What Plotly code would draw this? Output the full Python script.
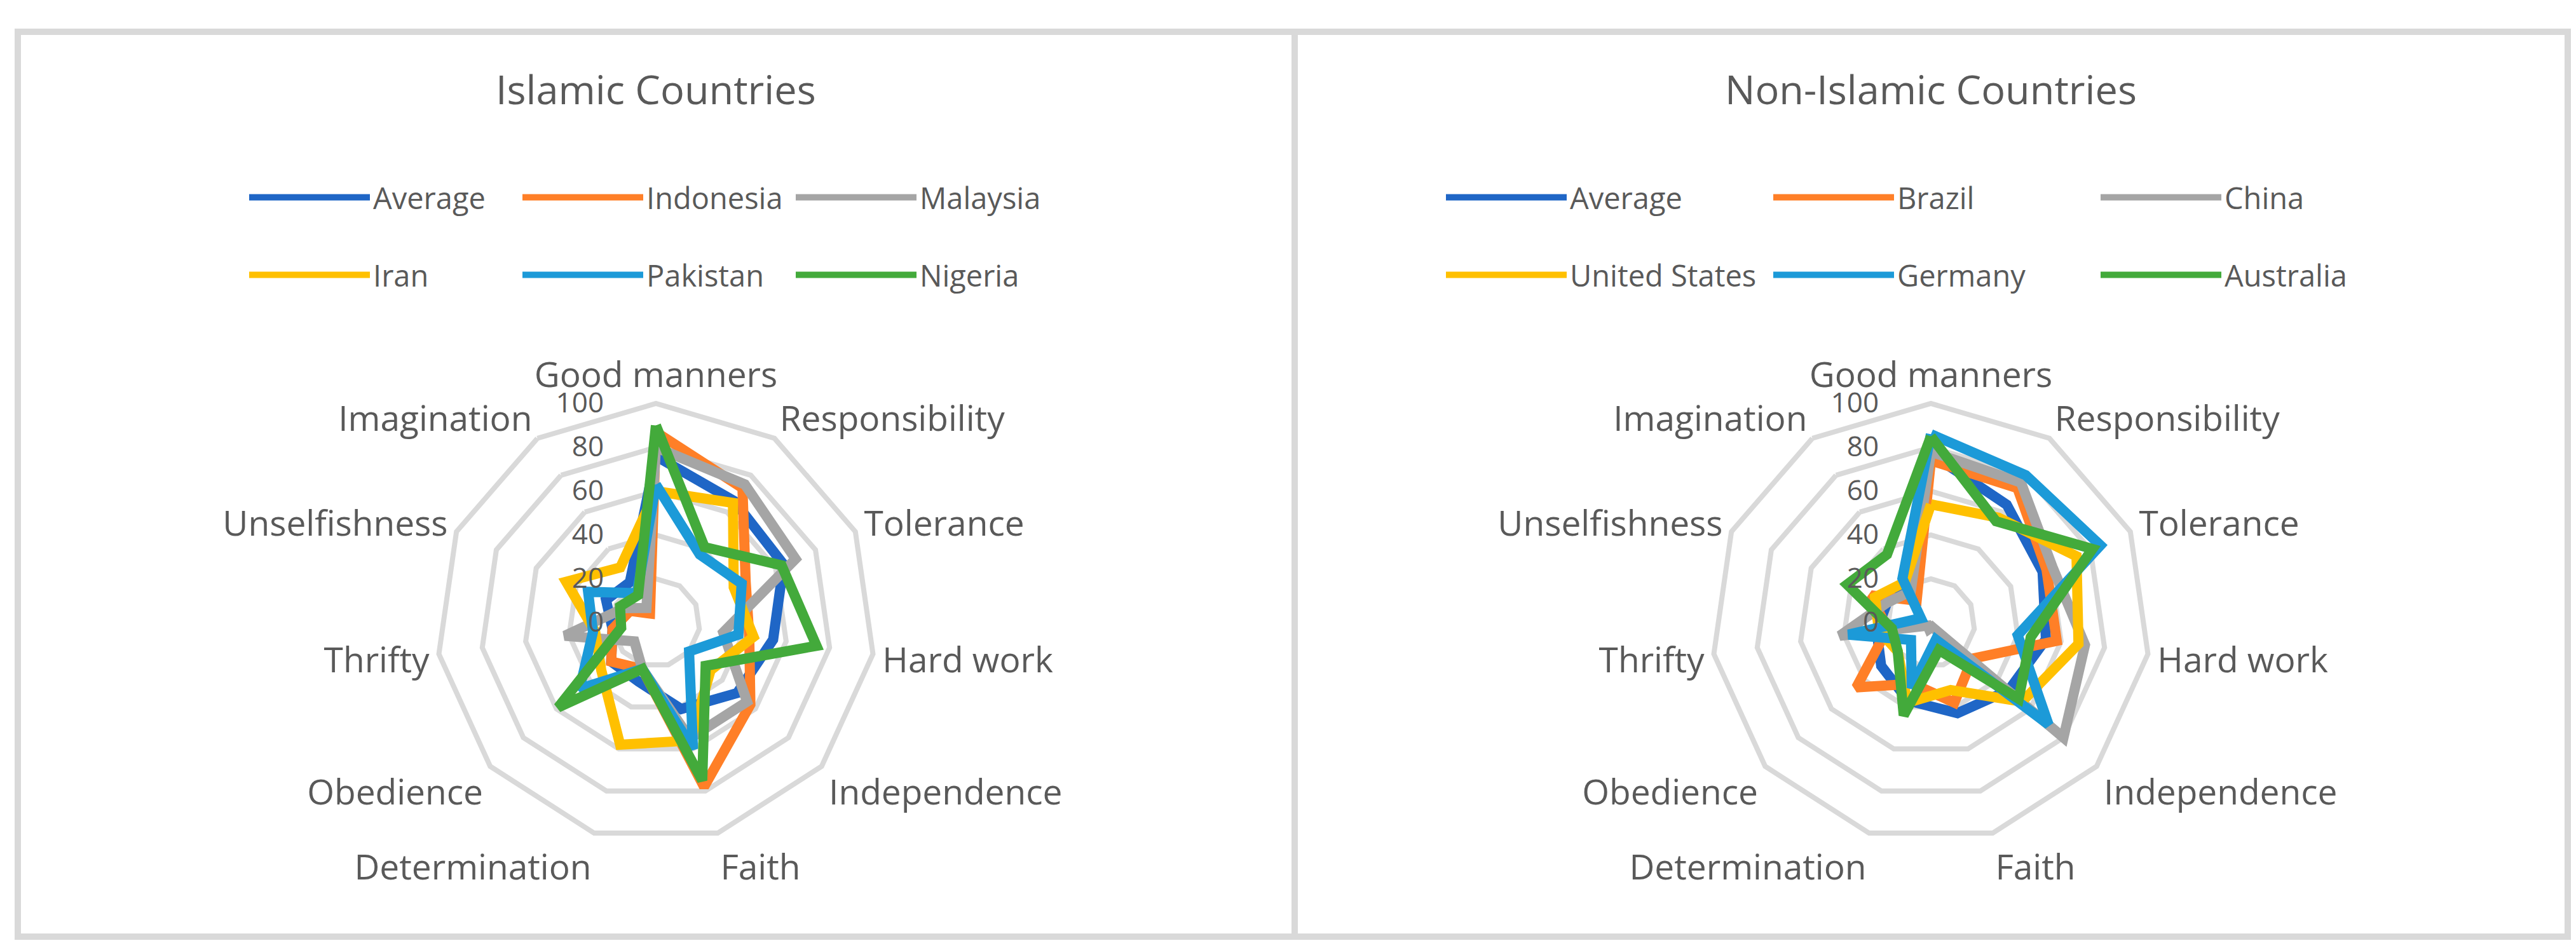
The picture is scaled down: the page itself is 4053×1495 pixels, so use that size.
import plotly.graph_objects as go

# the 11 child qualities, clockwise from the top
categories = ["Good manners", "Responsibility", "Tolerance", "Hard work", "Independence",
              "Faith", "Determination", "Obedience", "Thrifty", "Unselfishness", "Imagination"]

# Islamic countries (percent)
isl_average = [76, 66, 64, 54, 49, 41, 28, 27, 20, 25, 22]
indonesia = [87, 73, 45, 43, 57, 78, 22, 27, 20, 13, 5]
malaysia = [80, 75, 70, 31, 55, 55, 22, 13, 42, 16, 8]
iran = [60, 65, 39, 45, 33, 56, 58, 33, 28, 45, 30]
pakistan = [63, 37, 43, 38, 20, 60, 22, 46, 29, 34, 16]
nigeria = [90, 41, 63, 74, 30, 75, 22, 59, 16, 18, 15]

# non-Islamic countries (percent)
non_average = [77, 64, 56, 53, 47, 43, 37, 30, 25, 22, 20]
brazil = [74, 73, 58, 58, 25, 38, 29, 45, 20, 30, 12]
china = [78, 76, 61, 71, 80, 2, 3, 2, 42, 22, 17]
united_states = [54, 57, 73, 68, 55, 32, 38, 20, 24, 28, 22]
germany = [86, 80, 85, 40, 71, 8, 31, 12, 38, 5, 24]
australia = [85, 55, 81, 46, 53, 13, 44, 20, 18, 42, 37]

colors = ["#1F66C6", "#FF7F27", "#A5A5A5", "#FFC000", "#1C9AD8", "#43AA3B"]
TXT = "#595959"
GRID = "#D9D9D9"
FONT = "Open Sans"

W, H = 4053, 1495

left_series = [("Average", isl_average), ("Indonesia", indonesia), ("Malaysia", malaysia),
               ("Iran", iran), ("Pakistan", pakistan), ("Nigeria", nigeria)]
right_series = [("Average", non_average), ("Brazil", brazil), ("China", china),
                ("United States", united_states), ("Germany", germany), ("Australia", australia)]

fig = go.Figure()

def add_series(series, subplot, legends):
    for i, (name, vals) in enumerate(series):
        fig.add_trace(go.Scatterpolar(
            r=vals + vals[:1],
            theta=categories + categories[:1],
            mode="lines",
            name=name,
            line=dict(color=colors[i], width=16),
            subplot=subplot,
            legend=legends[i // 3],
        ))

add_series(left_series, "polar", ["legend", "legend2"])
add_series(right_series, "polar2", ["legend3", "legend4"])

R = 345
cy = H - 972

def polar_cfg(cx):
    return dict(
        domain=dict(x=[(cx - R) / W, (cx + R) / W], y=[(cy - R) / H, (cy + R) / H]),
        gridshape="linear",
        bgcolor="white",
        radialaxis=dict(range=[0, 100], tickvals=[0, 20, 40, 60, 80, 100], angle=90,
                        side="counterclockwise", showline=False,
                        ticks="outside", ticklen=66, tickcolor="rgba(0,0,0,0)",
                        gridcolor=GRID, gridwidth=8, tickangle=90,
                        tickfont=dict(family=FONT, size=44, color=TXT)),
        angularaxis=dict(direction="clockwise", rotation=90, showgrid=False,
                         showline=True, linecolor=GRID, linewidth=8, ticks="",
                         tickfont=dict(family=FONT, size=55, color=TXT)),
    )

def legend_cfg(x, y, entry):
    return dict(x=x / W, y=1 - y / H, xanchor="left", yanchor="middle",
                orientation="h", itemwidth=190, entrywidth=entry,
                font=dict(family=FONT, size=47, color=TXT), bgcolor="rgba(0,0,0,0)")

fig.update_layout(
    width=W, height=H,
    margin=dict(l=0, r=0, t=0, b=0),
    paper_bgcolor="white",
    showlegend=True,
    polar=polar_cfg(1024),
    polar2=polar_cfg(3030),
    legend=legend_cfg(379, 303, 225),
    legend2=legend_cfg(379, 425, 225),
    legend3=legend_cfg(2262, 303, 310),
    legend4=legend_cfg(2262, 425, 310),
    annotations=[
        dict(text="Islamic Countries", x=1024 / W, y=1 - 132 / H, xref="paper", yref="paper",
             xanchor="center", yanchor="middle", showarrow=False,
             font=dict(family=FONT, size=63, color=TXT)),
        dict(text="Non-Islamic Countries", x=3030 / W, y=1 - 132 / H, xref="paper", yref="paper",
             xanchor="center", yanchor="middle", showarrow=False,
             font=dict(family=FONT, size=63, color=TXT)),
    ],
    shapes=[
        dict(type="rect", xref="paper", yref="paper", x0=20 / W, x1=2029 / W,
             y0=1 - 1466 / H, y1=1 - 42 / H, line=dict(color=GRID, width=10)),
        dict(type="rect", xref="paper", yref="paper", x0=2029 / W, x1=4032 / W,
             y0=1 - 1466 / H, y1=1 - 42 / H, line=dict(color=GRID, width=10)),
    ],
)

fig.write_html("out.html")
